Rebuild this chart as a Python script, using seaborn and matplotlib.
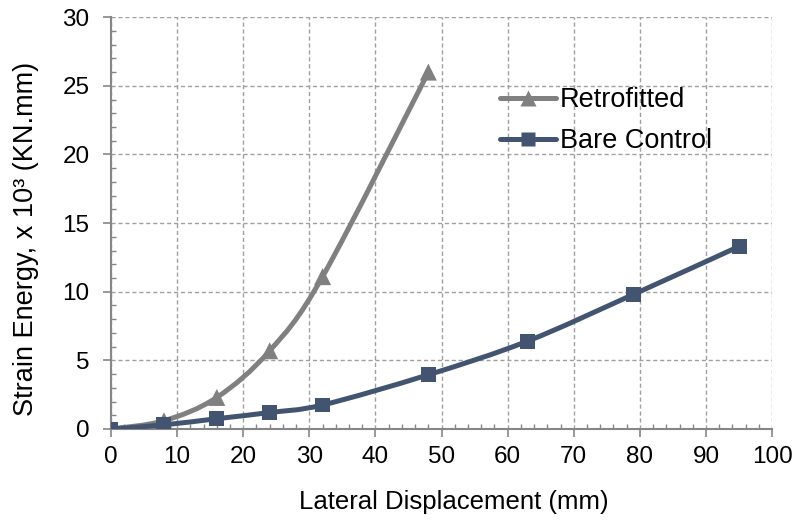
import numpy as np
import pandas as pd
import seaborn as sns
import matplotlib.pyplot as plt
from matplotlib.path import Path
from matplotlib.patches import PathPatch
from matplotlib.lines import Line2D
from matplotlib.ticker import MultipleLocator

# values
retro_x = [0, 8, 16, 24, 32, 48]
retro_y = [0.0, 0.6, 2.3, 5.7, 11.1, 26.0]
bare_x = [0, 8, 16, 24, 32, 48, 63, 79, 95]
bare_y = [0.0, 0.3, 0.75, 1.2, 1.75, 3.95, 6.4, 9.8, 13.3]

retro_color = "#808080"
bare_color = "#435470"

sns.set_theme(style="white")
plt.rcParams["font.family"] = ["Liberation Sans", "DejaVu Sans"]
plt.rcParams["text.color"] = "black"
plt.rcParams["axes.labelcolor"] = "black"
plt.rcParams["xtick.labelcolor"] = "black"
plt.rcParams["ytick.labelcolor"] = "black"

fig, ax = plt.subplots(figsize=(7.96, 5.21), dpi=100)
fig.subplots_adjust(left=0.1395, right=0.97, top=0.967, bottom=0.1766)


def smooth_path(xs, ys):
    # Excel-style smoothed line: cubic Bezier through each point
    p = np.column_stack([xs, ys]).astype(float)
    n = len(p)
    verts = [p[0]]
    codes = [Path.MOVETO]
    for i in range(n - 1):
        p0 = p[i - 1] if i > 0 else p[i]
        p3 = p[i + 2] if i + 2 < n else p[i + 1]
        c1 = p[i] + (p[i + 1] - p0) / 6
        c2 = p[i + 1] - (p3 - p[i]) / 6
        verts += [c1, c2, p[i + 1]]
        codes += [Path.CURVE4] * 3
    return Path(verts, codes)


retro = pd.DataFrame({"x": retro_x, "y": retro_y})
bare = pd.DataFrame({"x": bare_x, "y": bare_y})

for xs, ys, col in [(retro_x, retro_y, retro_color), (bare_x, bare_y, bare_color)]:
    ax.add_patch(PathPatch(smooth_path(xs, ys), facecolor="none",
                           edgecolor=col, lw=3.6, capstyle="round", zorder=3))

sns.scatterplot(data=retro, x="x", y="y", marker="^", color=retro_color,
                s=150, edgecolor="none", ax=ax, zorder=4)
sns.scatterplot(data=bare, x="x", y="y", marker="s", color=bare_color,
                s=115, edgecolor="none", ax=ax, zorder=4)

ax.set_xlim(0, 100)
ax.set_ylim(0, 30)
ax.xaxis.set_major_locator(MultipleLocator(10))
ax.xaxis.set_minor_locator(MultipleLocator(2))
ax.yaxis.set_major_locator(MultipleLocator(5))
ax.yaxis.set_minor_locator(MultipleLocator(1))
ax.tick_params(which="major", direction="out", length=5.5, width=1.2,
               color="#868686", labelsize=17.5, bottom=True, left=True)
ax.tick_params(axis="x", which="major", pad=7)
ax.tick_params(axis="y", which="major", pad=10)
ax.tick_params(which="minor", direction="in", length=3.5, width=1,
               color="#868686", bottom=True, left=True)
ax.grid(True, which="major", ls=(0, (3, 2)), color="#a0a0a0", lw=1)
ax.set_axisbelow(True)
for sp in ["top", "right"]:
    ax.spines[sp].set_visible(False)
for sp in ["left", "bottom"]:
    ax.spines[sp].set_color("#868686")
    ax.spines[sp].set_linewidth(1.5)

ax.set_xlabel("Lateral Displacement (mm)", fontsize=18.5)
ax.set_ylabel("Strain Energy, x 10³ (KN.mm)", fontsize=19.5)
ax.xaxis.set_label_coords(0.519, -0.148)
ax.yaxis.set_label_coords(-0.109, 0.461)

handles = [
    Line2D([], [], color=retro_color, lw=3.6, marker="^", markersize=11, markeredgecolor="none"),
    Line2D([], [], color=bare_color, lw=3.6, marker="s", markersize=10, markeredgecolor="none"),
]
ax.legend(handles, ["Retrofitted", "Bare Control"], loc="center left",
          bbox_to_anchor=(0.5516, 0.749), frameon=False, fontsize=19.5,
          handlelength=2.07, handletextpad=0.15, labelspacing=0.55)

fig.savefig("out.png", dpi=100)
